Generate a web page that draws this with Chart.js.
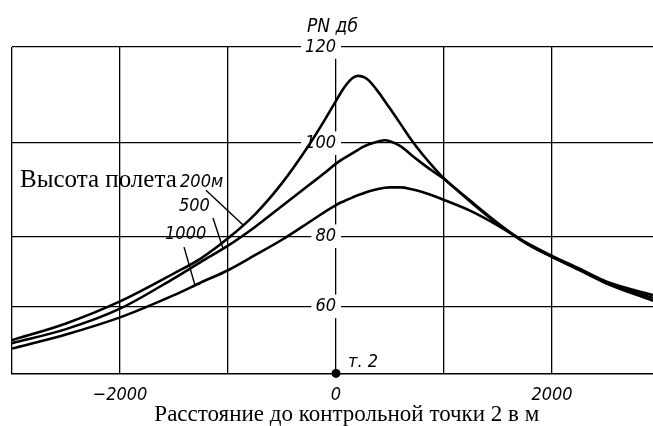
<!DOCTYPE html>
<html>
<head>
<meta charset="utf-8">
<script src="https://cdn.jsdelivr.net/npm/chart.js@4.4.0/dist/chart.umd.min.js"></script>
<style>
  html, body { margin: 0; padding: 0; background: #fff; overflow: hidden; }
  canvas { display: block; }
</style>
</head>
<body>
<canvas id="pnChart" width="653" height="426"></canvas>
<script>
// расстояние до контрольной точки 2, м
const distances = [-3000, -2500, -2000, -1500, -1250, -1000, -750, -500, -250, -100, 0, 50, 100, 150, 200, 250, 300, 400, 450, 500, 600, 700, 800, 900, 1000, 1250, 1500, 1750, 2000, 2250, 2500, 2935];

// PN дб при высоте полета 200, 500 и 1000 м
const pn200  = [49.9, 54.9, 61.4, 69.4, 73.7, 79.4, 84.7, 91.4, 99.6, 105.0, 108.8, 110.7, 112.3, 113.5, 114.0, 113.8, 113.1, 110.4, 108.8, 107.2, 103.9, 100.6, 97.6, 94.9, 92.4, 87.5, 82.8, 78.2, 74.1, 70.4, 66.6, 61.6];
const pn500  = [49.0, 53.2, 59.3, 68.0, 72.7, 77.3, 82.0, 86.5, 91.0, 93.7, 95.6, 96.4, 97.1, 97.8, 98.5, 99.2, 99.7, 100.4, 100.6, 100.4, 99.3, 97.4, 95.6, 93.9, 92.3, 87.3, 82.6, 78.2, 74.1, 70.5, 66.9, 62.4];
const pn1000 = [47.4, 51.6, 56.7, 63.2, 66.8, 70.3, 74.6, 79.0, 83.0, 85.3, 86.7, 87.3, 87.8, 88.3, 88.8, 89.2, 89.6, 90.2, 90.4, 90.5, 90.5, 90.1, 89.5, 88.7, 87.8, 85.4, 82.3, 78.4, 74.4, 70.8, 67.1, 63.2];

// сетка и подписи осей
const xTicks = [-3000, -2000, -1000, 0, 1000, 2000];
const xLabelled = [-2000, 0, 2000];
const yTicks = [60, 80, 100, 120];

// шкала PN на листе размечена неравномерно:
// значения-опоры и их место по высоте оси (0 — низ, 1 — верх)
const yStops   = [40, 60, 80, 100, 120];
const yStopPos = [0, 0.2055, 0.4202, 0.7055, 1];

class StretchScale extends Chart.LinearScale {
  getPixelForValue(value) {
    if (value === null || isNaN(value)) return NaN;
    let i = 0;
    while (i < yStops.length - 2 && value > yStops[i + 1]) i++;
    const t = (value - yStops[i]) / (yStops[i + 1] - yStops[i]);
    return this.getPixelForDecimal(yStopPos[i] + t * (yStopPos[i + 1] - yStopPos[i]));
  }
  getValueForPixel(pixel) {
    const dec = this.getDecimalForPixel(pixel);
    let i = 0;
    while (i < yStopPos.length - 2 && dec > yStopPos[i + 1]) i++;
    const t = (dec - yStopPos[i]) / (yStopPos[i + 1] - yStopPos[i]);
    return yStops[i] + t * (yStops[i + 1] - yStops[i]);
  }
}
StretchScale.id = 'stretch';
StretchScale.defaults = {};
Chart.register(StretchScale);

const numFont = { family: "'DejaVu Sans Condensed', 'Liberation Sans Narrow', 'DejaVu Sans'", style: 'italic', size: 18 };
const serifFont = "'Liberation Serif', 'DejaVu Serif', serif";

// подписи высот, выноски и надписи (в единицах осей)
const heightNotes = [
  { text: 'Высота полета', x: -2926, y: 90.5, serif: true },
  { text: '200м', x: -1444, y: 90.5 },
  { text: '500',  x: -1454, y: 85.4 },
  { text: '1000', x: -1583, y: 79.1 },
  { text: 'т. 2', x: 111, y: 41.8 }
];
const leaders = [
  [-1204, 89.9, -860, 82.4],
  [-1139, 83.9, -1046, 76.5],
  [-1407, 76.9, -1306, 66.0]
];
const caption = { text: 'Расстояние до контрольной точки 2 в м', x: 100 };

const notes = {
  id: 'notes',
  afterDatasetsDraw(chart) {
    const { ctx, scales: { x, y } } = chart;
    ctx.save();
    ctx.fillStyle = '#000';
    ctx.strokeStyle = '#000';
    ctx.lineWidth = 1.4;
    leaders.forEach(([x0, y0, x1, y1]) => {
      ctx.beginPath();
      ctx.moveTo(x.getPixelForValue(x0), y.getPixelForValue(y0));
      ctx.lineTo(x.getPixelForValue(x1), y.getPixelForValue(y1));
      ctx.stroke();
    });
    ctx.textAlign = 'left';
    ctx.textBaseline = 'alphabetic';
    heightNotes.forEach(n => {
      ctx.font = n.serif ? `25px ${serifFont}` : `italic ${numFont.size}px ${numFont.family}`;
      ctx.fillText(n.text, x.getPixelForValue(n.x), y.getPixelForValue(n.y));
    });
    // подпись оси расстояний
    ctx.textAlign = 'center';
    ctx.font = `23px ${serifFont}`;
    ctx.fillText(caption.text, x.getPixelForValue(caption.x), chart.height - 5);
    ctx.restore();
  }
};

const curve = (label, ys) => ({
  label,
  data: distances.map((d, i) => ({ x: d, y: ys[i] })),
  borderColor: '#000',
  borderWidth: 2.6,
  pointRadius: 0,
  cubicInterpolationMode: 'monotone',
  fill: false
});

new Chart(document.getElementById('pnChart'), {
  type: 'line',
  data: {
    datasets: [
      curve('200 м', pn200),
      curve('500 м', pn500),
      curve('1000 м', pn1000),
      {
        label: 'т. 2',
        data: [{ x: 0, y: 40 }],
        showLine: false,
        pointRadius: 4.5,
        pointBackgroundColor: '#000',
        pointBorderWidth: 0,
        clip: false
      }
    ]
  },
  options: {
    responsive: false,
    animation: false,
    layout: { autoPadding: false, padding: { left: 12, right: 0, top: 0, bottom: 9 } },
    plugins: {
      legend: { display: false },
      tooltip: { enabled: false },
      title: {
        display: true,
        text: 'PN дб',
        color: '#000',
        font: { family: numFont.family, style: 'italic', weight: 'normal', size: 19, lineHeight: 1 },
        padding: { top: 18, bottom: 10 }
      }
    },
    scales: {
      x: {
        type: 'linear',
        min: -3000,
        max: 2935,
        bounds: 'data',
        afterBuildTicks: s => { s.ticks = xTicks.map(v => ({ value: v })); },
        ticks: {
          autoSkip: false,
          maxRotation: 0,
          padding: 11,
          color: '#000',
          font: numFont,
          callback: v => xLabelled.includes(v) ? (v < 0 ? '\u2212' + Math.abs(v) : String(v)) : ''
        },
        grid: { color: '#000', lineWidth: 1.3, drawTicks: false },
        border: { color: '#000', width: 1.6 }
      },
      y: {
        type: 'stretch',
        min: 40,
        max: 120,
        bounds: 'data',
        position: { x: 0 },
        afterBuildTicks: s => { s.ticks = yTicks.map(v => ({ value: v })); },
        ticks: {
          padding: 9,
          color: '#000',
          font: numFont,
          showLabelBackdrop: true,
          backdropColor: '#fff',
          backdropPadding: { top: 1, bottom: 1, left: 4, right: 5 }
        },
        grid: { color: '#000', lineWidth: 1.3, drawTicks: false },
        border: { display: false }
      }
    }
  },
  plugins: [notes]
});
</script>
</body>
</html>
